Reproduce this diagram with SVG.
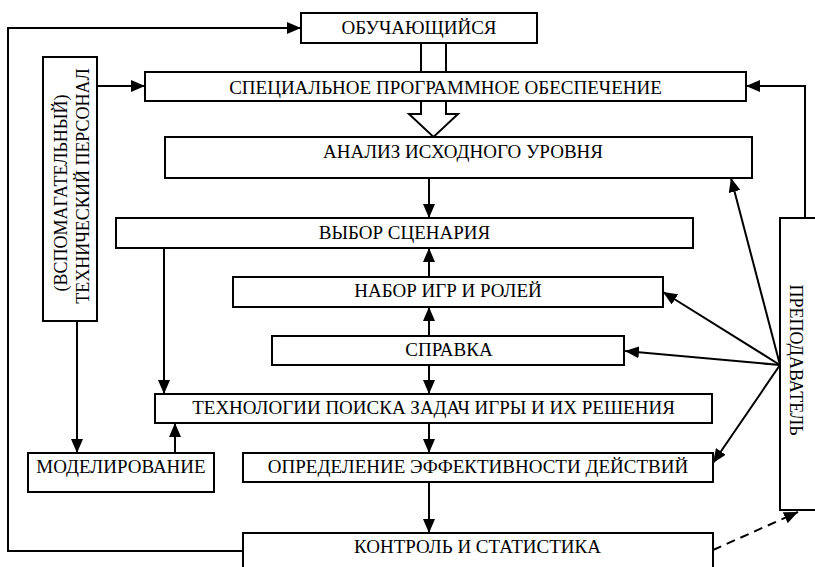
<svg xmlns="http://www.w3.org/2000/svg" width="815" height="567" viewBox="0 0 815 567">
  <defs>
    <marker id="arrow" markerUnits="userSpaceOnUse" markerWidth="14" markerHeight="12" refX="14" refY="6" orient="auto" viewBox="0 0 14 12">
      <path d="M0,0 L14,6 L0,12 z" fill="#000"/>
    </marker>
    <style>
      .box { fill: #fff; stroke: #000; stroke-width: 2; }
      .lbl { font-family: "Liberation Serif", "Times New Roman", serif; font-size: 19px; fill: #000; text-anchor: middle; }
      .vlbl { font-size: 18px; }
      .wire { fill: none; stroke: #000; stroke-width: 2; }
      .arr { marker-end: url(#arrow); }
      .dash { stroke-dasharray: 9 6; }
    </style>
  </defs>
  <rect width="815" height="567" fill="#fff"/>

  <g id="connectors">
    <!-- loop from control back to the learner -->
    <polyline class="wire arr" points="243,551 8,551 8,28 301,28"/>
    <!-- staff to software -->
    <line class="wire arr" x1="97" y1="86" x2="145" y2="86"/>
    <!-- teacher to software -->
    <polyline class="wire arr" points="805,218 805,86 746,86"/>
    <!-- hollow arrow: learner through software to analysis -->
    <line class="wire" x1="421" y1="43" x2="421" y2="72"/>
    <line class="wire" x1="446" y1="43" x2="446" y2="72"/>
    <polyline class="wire" points="421,101 421,114 409,114 433.5,137 458,114 446,114 446,101" style="fill:#fff"/>
    <!-- central column -->
    <line class="wire arr" x1="429" y1="178" x2="429" y2="218"/>
    <line class="wire arr" x1="429" y1="277" x2="429" y2="248"/>
    <line class="wire arr" x1="429" y1="336" x2="429" y2="307"/>
    <line class="wire arr" x1="429" y1="365" x2="429" y2="394"/>
    <line class="wire arr" x1="429" y1="423" x2="429" y2="453"/>
    <line class="wire arr" x1="429" y1="482" x2="429" y2="533"/>
    <!-- scenario to technologies -->
    <line class="wire arr" x1="164" y1="248" x2="164" y2="394"/>
    <!-- staff to modelling -->
    <line class="wire arr" x1="77" y1="321" x2="77" y2="453"/>
    <!-- modelling to technologies -->
    <line class="wire arr" x1="175" y1="453" x2="175" y2="423"/>
    <!-- teacher fan -->
    <line class="wire arr" x1="780" y1="365" x2="731" y2="178"/>
    <line class="wire arr" x1="780" y1="365" x2="663" y2="292"/>
    <line class="wire arr" x1="780" y1="365" x2="625" y2="351"/>
    <line class="wire arr" x1="780" y1="365" x2="713" y2="463"/>
    <!-- control to teacher (dashed) -->
    <line class="wire arr dash" x1="713" y1="550" x2="798" y2="512"/>
  </g>

  <g id="learner">
    <rect class="box" x="301" y="13" width="236" height="30"/>
    <text class="lbl" x="419" y="34">ОБУЧАЮЩИЙСЯ</text>
  </g>
  <g id="software">
    <rect class="box" x="145" y="72" width="601" height="29"/>
    <text class="lbl" x="445.5" y="94">СПЕЦИАЛЬНОЕ ПРОГРАММНОЕ ОБЕСПЕЧЕНИЕ</text>
  </g>
  <g id="staff">
    <rect class="box" x="43" y="57" width="54" height="264"/>
    <text class="lbl vlbl" transform="translate(67,193) rotate(-90)">(ВСПОМАГАТЕЛЬНЫЙ)</text>
    <text class="lbl vlbl" transform="translate(89,186) rotate(-90)">ТЕХНИЧЕСКИЙ ПЕРСОНАЛ</text>
  </g>
  <g id="analysis">
    <rect class="box" x="165" y="137" width="587" height="41"/>
    <text class="lbl" x="463" y="158">АНАЛИЗ ИСХОДНОГО УРОВНЯ</text>
  </g>
  <g id="scenario">
    <rect class="box" x="116" y="218" width="577" height="30"/>
    <text class="lbl" x="404.5" y="239">ВЫБОР СЦЕНАРИЯ</text>
  </g>
  <g id="games">
    <rect class="box" x="233" y="277" width="430" height="30"/>
    <text class="lbl" x="448" y="297">НАБОР ИГР И РОЛЕЙ</text>
  </g>
  <g id="reference">
    <rect class="box" x="272" y="336" width="352" height="29"/>
    <text class="lbl" x="449" y="356">СПРАВКА</text>
  </g>
  <g id="technologies">
    <rect class="box" x="155" y="394" width="557" height="29"/>
    <text class="lbl" x="433.5" y="414">ТЕХНОЛОГИИ ПОИСКА ЗАДАЧ ИГРЫ И ИХ РЕШЕНИЯ</text>
  </g>
  <g id="modelling">
    <rect class="box" x="28" y="453" width="186" height="39"/>
    <text class="lbl" x="121" y="473">МОДЕЛИРОВАНИЕ</text>
  </g>
  <g id="efficiency">
    <rect class="box" x="243" y="453" width="470" height="29"/>
    <text class="lbl" x="478" y="473">ОПРЕДЕЛЕНИЕ ЭФФЕКТИВНОСТИ ДЕЙСТВИЙ</text>
  </g>
  <g id="control">
    <rect class="box" x="243" y="533" width="470" height="44"/>
    <text class="lbl" x="477.5" y="553">КОНТРОЛЬ И СТАТИСТИКА</text>
  </g>
  <g id="teacher">
    <rect class="box" x="780" y="218" width="40" height="292"/>
    <text class="lbl vlbl" transform="translate(790,360) rotate(90)">ПРЕПОДАВАТЕЛЬ</text>
  </g>
</svg>
